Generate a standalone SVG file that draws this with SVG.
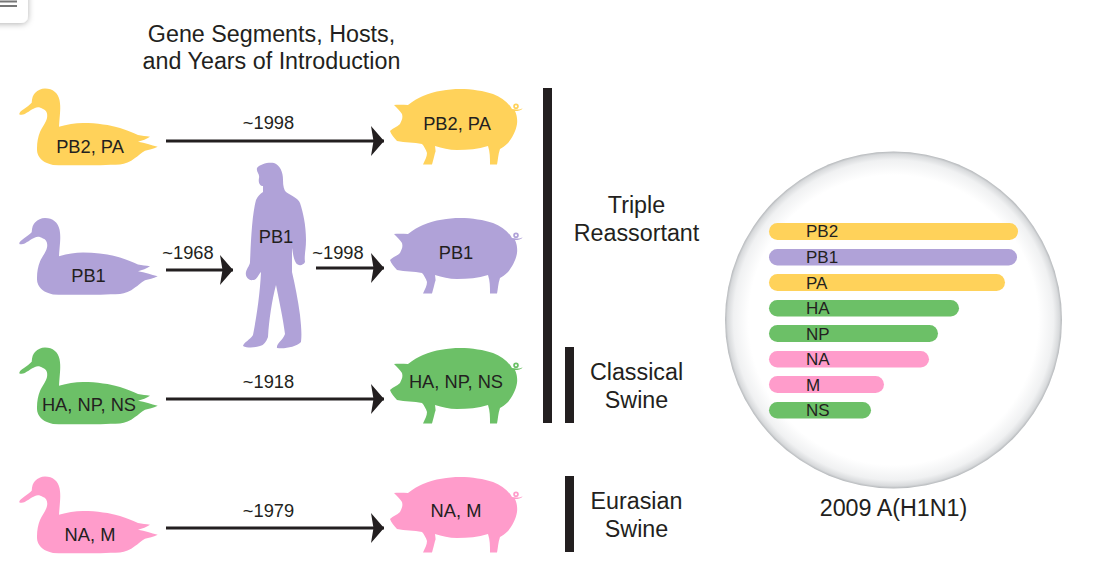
<svg xmlns="http://www.w3.org/2000/svg" xmlns:xlink="http://www.w3.org/1999/xlink" width="1104" height="564" viewBox="0 0 1104 564">
<style>
text{font-family:"Liberation Sans",Arial,sans-serif;fill:#231f20;text-anchor:middle}
.t{font-size:23.300px}.l{font-size:18.300px}.y{font-size:18.300px}.b{font-size:17px;text-anchor:start}
.c{stroke:#231f20;stroke-width:3.2;fill:none;marker-end:url(#ah)}
.yl{fill:#ffd25a}.pu{fill:#b0a2d8}.gr{fill:#6cc067}.pk{fill:#ff9ccb}
.bar{fill:#231f20}
</style>
<defs>
<marker id="ah" markerUnits="userSpaceOnUse" markerWidth="14" markerHeight="34" refX="13" refY="17" orient="auto"><path d="M0 2 L13 17 L0 32 L2.500 17Z" fill="#231f20"/></marker>
<radialGradient id="dish" cx="50%" cy="50%" r="50%"><stop offset="0.86" stop-color="#fff"/><stop offset="0.95" stop-color="#f0f1f2"/><stop offset="0.985" stop-color="#d8dadc"/><stop offset="1" stop-color="#b4b7ba"/></radialGradient>
<filter id="sh" x="-30%" y="-30%" width="160%" height="160%"><feDropShadow dx="0" dy="1" stdDeviation="3" flood-color="#000" flood-opacity="0.3"/></filter>
<path id="duck" d="M19.300 114C19 111 28 107 31.700 102.700C32 98 33 95 35 93C38 90 41 88.500 45 88.500C53 88.500 58 93 59.500 100C61 108 60 112 59 126.700C67 124.500 75 123 83 123C97 123 110 125 120 128C127 130 133 133 138 135C142 136 146 136 150 136.700C147 139 142 140.500 138 141.700C145 143 151 145 157.700 146.700C153 149 149 149.500 145 150.700C141 153 138 156 135 158C130 162 125 164 120 164.500C100 165.500 70 165.500 53 165C46 163 42 161 40 158C37 154 37 151 37 148C37 142 38 137 40 132C42 127 46 123 47 118C48 113 46 110 43 109C40 107 37 107 35 108C31 109.500 26 114 23 114.500C21 115 19.500 115 19.300 114Z"/>
<path id="pig" d="M394 105C399 104.500 404 105 408 105C413 101 418 98 423 96C435 91 448 89 460 89C472 89 484 91 493 94C501 97 508 102 512 109L516.500 109.500C519 109.800 521 109 522.700 108.500C521 110.500 518 111 515 111C517 115 517.500 120 517 124C516 131 512 138 508 143C505 146 502 148 500 149C498 155 498 160 497 164.500L490 164.500C490 158 490 152 488 146C478 149 468 150 457 150C449 150 442 148 435 146C435.500 150 436 152 435 153C434 157 433 161 432 164.500L423 164.500C425 160 427 157 427 153C426 150 424 146 422 144C414 142 405 143 397 141C394 138 391 134 390 131C393 128 397 127 400 124C402 120 403 118 402 114C400 111 397 108 394 105ZM516 103.500A2.800 2.800 0 1 1 516 109.100A2.800 2.800 0 1 1 516 103.500ZM516 105.200A1.100 1.100 0 1 0 516 107.400A1.100 1.100 0 1 0 516 105.200Z"/>
</defs>
<g id="menu"><rect x="-20" y="-20" width="48" height="43" rx="7" fill="#fff" filter="url(#sh)"/><path d="M0 1.500H17M0 6H17" stroke="#777" stroke-width="1.800"/></g>
<g id="title"><text class="t" x="271.500" y="41.500">Gene Segments, Hosts,</text><text class="t" x="271.500" y="69">and Years of Introduction</text></g>
<g id="duck-pb2-pa"><use xlink:href="#duck" href="#duck" class="yl"/><text class="l" x="90" y="153">PB2, PA</text></g>
<g id="duck-pb1"><use xlink:href="#duck" href="#duck" class="pu" y="129.500"/><text class="l" x="88.500" y="282">PB1</text></g>
<g id="duck-ha-np-ns"><use xlink:href="#duck" href="#duck" class="gr" y="259"/><text class="l" x="89" y="411">HA, NP, NS</text></g>
<g id="duck-na-m"><use xlink:href="#duck" href="#duck" class="pk" y="388"/><text class="l" x="90" y="541">NA, M</text></g>
<g id="human"><path class="pu" d="M257 168C260 164 268 162 274 163C280 165 283 172 283 180C283 186 284 190 286 192C292 196 298 198 300 203C303 212 306 225 306 240C306 250 304 256 305 262C303 266 298 266 296 263C293 258 293 252 292 248L292 272C295 285 298 300 300 315C301 325 302 333 301 342C296 347 285 349 277 348C276 344 283 340 285 334C283 318 279 300 276 285C272 300 269 320 268 337C266 342 264 345 260 346C254 348 247 348 243 346C244 342 250 340 253 335C256 320 260 295 261 272C258 275 257 280 253 280C248 281 245 276 246 272C247 268 250 265 250 262C251 240 252 215 256 200C258 196 260 194 263 192L263 186C260 186 258 183 259 178C260 174 256 172 257 168Z"/><text class="l" x="276" y="243">PB1</text></g>
<g id="pig-pb2-pa"><use xlink:href="#pig" href="#pig" class="yl"/><text class="l" x="457" y="130">PB2, PA</text></g>
<g id="pig-pb1"><use xlink:href="#pig" href="#pig" class="pu" y="129"/><text class="l" x="456" y="259">PB1</text></g>
<g id="pig-ha-np-ns"><use xlink:href="#pig" href="#pig" class="gr" y="259"/><text class="l" x="456" y="388">HA, NP, NS</text></g>
<g id="pig-na-m"><use xlink:href="#pig" href="#pig" class="pk" y="388"/><text class="l" x="456" y="517">NA, M</text></g>
<g id="connectors">
<path class="c" d="M166 141H384"/><path class="c" d="M166 270H233"/><path class="c" d="M316 268H384"/><path class="c" d="M166 399H384"/><path class="c" d="M166 528H384"/>
</g>
<g id="arrow-labels"><text class="y" x="268.500" y="129">~1998</text><text class="y" x="188" y="259">~1968</text><text class="y" x="338" y="259">~1998</text><text class="y" x="268.500" y="388">~1918</text><text class="y" x="268.500" y="517">~1979</text></g>
<g id="brackets"><rect class="bar" x="543" y="88" width="9" height="335"/><rect class="bar" x="565" y="347" width="9" height="76"/><rect class="bar" x="565" y="476" width="9" height="76"/></g>
<g id="group-labels"><text class="t" x="636.500" y="213">Triple</text><text class="t" x="636.500" y="241">Reassortant</text><text class="t" x="636.500" y="380">Classical</text><text class="t" x="636.500" y="408">Swine</text><text class="t" x="636.500" y="509">Eurasian</text><text class="t" x="636.500" y="537">Swine</text></g>
<g id="virus">
<circle cx="893.500" cy="320" r="168.500" fill="url(#dish)"/>
<rect class="yl" x="769" y="223" width="249" height="17" rx="8.500"/>
<rect class="pu" x="769" y="249" width="248" height="16.500" rx="8.250"/>
<rect class="yl" x="769" y="274" width="236" height="17" rx="8.500"/>
<rect class="gr" x="769" y="300" width="190" height="16.500" rx="8.250"/>
<rect class="gr" x="769" y="325" width="169" height="17" rx="8.500"/>
<rect class="pk" x="769" y="351" width="160" height="16.500" rx="8.250"/>
<rect class="pk" x="769" y="376" width="115" height="17" rx="8.500"/>
<rect class="gr" x="769" y="402" width="102" height="16.500" rx="8.250"/>
<text class="b" x="806" y="237">PB2</text><text class="b" x="806" y="263">PB1</text><text class="b" x="806" y="289">PA</text><text class="b" x="806" y="314">HA</text><text class="b" x="806" y="340">NP</text><text class="b" x="806" y="365">NA</text><text class="b" x="806" y="391">M</text><text class="b" x="806" y="416">NS</text>
</g>
<text class="t" x="893.500" y="515.500">2009 A(H1N1)</text>
</svg>
